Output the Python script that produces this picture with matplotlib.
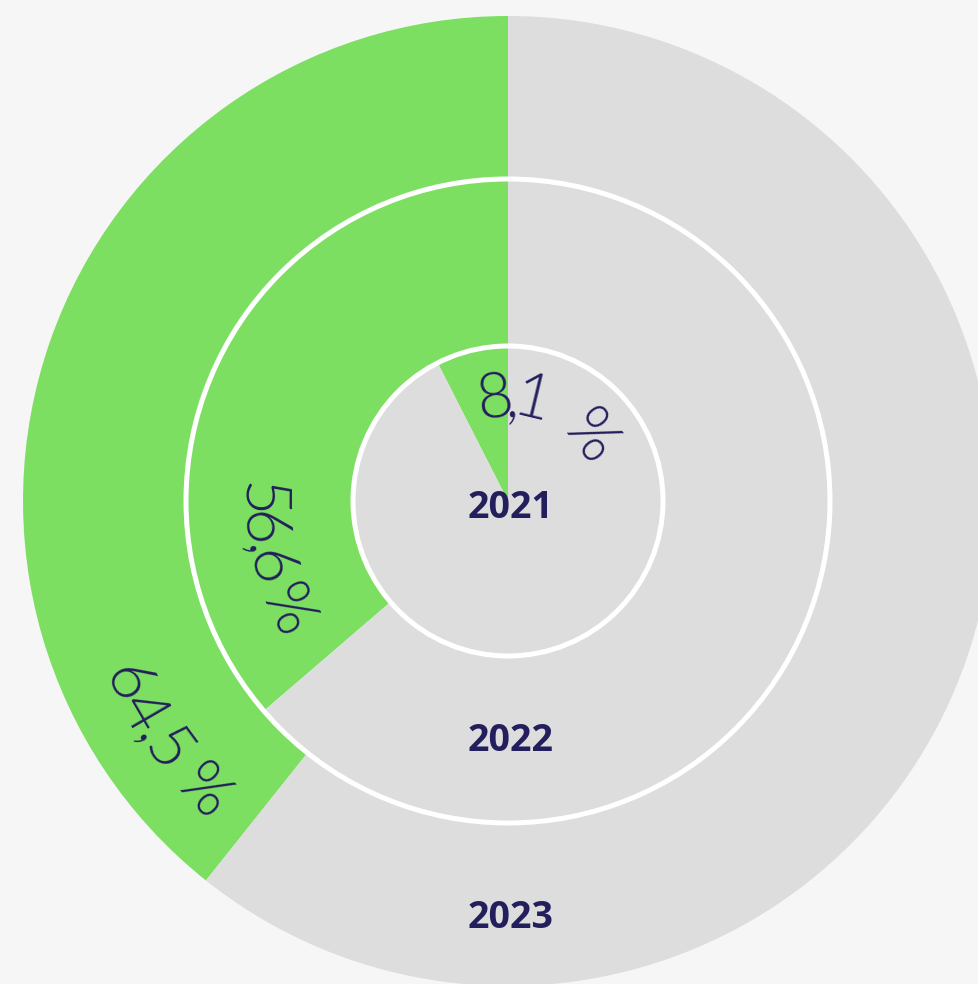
import numpy as np
import matplotlib
matplotlib.use('Agg')
import matplotlib.pyplot as plt
from matplotlib.patches import Circle
from matplotlib.font_manager import FontProperties
from matplotlib.textpath import TextToPath

# Data
years = ['2021', '2022', '2023']
share_labels = ['8,1 %', '56,6 %', '64,5 %']
# part of each ring that is drawn green
drawn_share = [0.075, 0.363, 0.393]

GREEN = '#7ddf62'
GREY = '#dddddd'
NAVY = '#221f5c'
BG = '#f6f6f6'

W, H, DPI = 979, 984, 100
cx, cy = 508, 483
ring_outer = [155, 322, 485]

ttp = TextToPath()
label_font = FontProperties(family='Lato', weight=300, size=45)


def char_adv(ch, prop):
    # advance width of one char in pixels
    w1 = ttp.get_text_width_height_descent('|' + ch + '|', prop, ismath=False)[0]
    w0 = ttp.get_text_width_height_descent('||', prop, ismath=False)[0]
    return (w1 - w0) * DPI / 72


def arc_text(ax, text, r_mid, r_base, th_first, th_last, track):
    """Write text along a circle. First and last glyph are centred at th_first / th_last,
    glyphs are tracked by `track`, spaces take up what is left."""
    advs = np.array([char_adv(c, label_font) for c in text]) * track
    gaps = (advs[:-1] + advs[1:]) / 2
    total = abs(np.radians(th_last - th_first)) * r_mid
    n_sp = text.count(' ')
    if n_sp:
        sp = [i for i, c in enumerate(text) if c == ' ']
        fixed = sum(g for i, g in enumerate(gaps) if i not in sp and i + 1 not in sp)
        around = sum(advs[i - 1] / 2 + advs[i + 1] / 2 for i in sp)
        sp_w = (total - fixed - around) / n_sp
        for i in sp:
            advs[i] = sp_w
        gaps = (advs[:-1] + advs[1:]) / 2
    sign = 1 if th_last > th_first else -1
    pos = 0.0
    for i, ch in enumerate(text):
        if i > 0:
            pos += gaps[i - 1]
        if ch == ' ':
            continue
        ang = np.radians(th_first) + sign * pos / r_mid
        x = cx + r_base * np.cos(ang)
        y = cy + r_base * np.sin(ang)
        ax.text(x, y, ch, rotation=np.degrees(ang) + 90 * sign, rotation_mode='anchor',
                ha='center', va='baseline', fontproperties=label_font, color=NAVY, zorder=5)


fig = plt.figure(figsize=(W / DPI, H / DPI), dpi=DPI, facecolor=BG)
ax = fig.add_axes([0, 0, 1, 1])

# Rings, one pie each, green share starting at 12 o'clock going anticlockwise
inner = 0
for share, r_out in zip(drawn_share, ring_outer):
    ax.pie([share, 1 - share], radius=r_out, center=(cx, cy), startangle=90,
           counterclock=True, colors=[GREEN, GREY],
           wedgeprops=dict(width=r_out - inner, linewidth=0))
    inner = r_out

# white separators
for r in ring_outer[:2]:
    ax.add_patch(Circle((cx, cy), r, fill=False, ec='white', lw=3.6, zorder=3))

# Percent labels along the arcs
arc_text(ax, share_labels[0], 109, 85, 97.5, 37.5, 0.8)
arc_text(ax, share_labels[1], 243, 266, 179.8, 206.5, 0.78)
arc_text(ax, share_labels[2], 418, 440, 205.6, 223.8, 0.9)

# Year labels
for year, off in zip(years, [7, 240, 416.5]):
    ax.text(cx + 3, cy - off, year, ha='center', va='center', fontsize=27,
            fontweight='bold', family='Open Sans', color=NAVY, zorder=4)

ax.set_xlim(0, W)
ax.set_ylim(0, H)
ax.set_aspect('equal')
ax.axis('off')

fig.savefig('out.png', dpi=DPI, facecolor=BG)
